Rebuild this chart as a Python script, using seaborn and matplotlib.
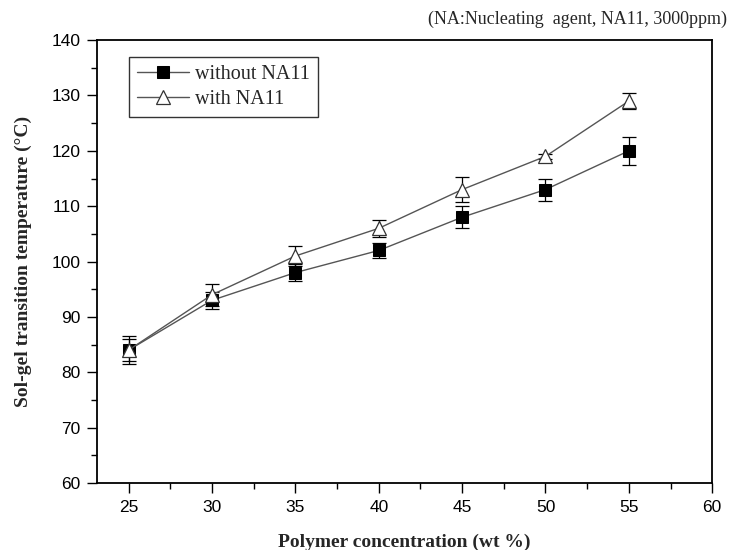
import matplotlib
matplotlib.use("Agg")
import matplotlib.pyplot as plt
import seaborn as sns
import pandas as pd
from matplotlib.ticker import MultipleLocator

conc = [25, 30, 35, 40, 45, 50, 55]
without_na = [84, 93, 98, 102, 108, 113, 120]
without_err = [2.0, 1.5, 1.5, 1.3, 2.0, 2.0, 2.5]
with_na = [84, 94, 101, 106, 113, 119, 129]
with_err = [2.5, 2.0, 1.8, 1.5, 2.3, 0.5, 1.5]

sns.set_theme(style="white")
plt.rcParams['font.family'] = ['Liberation Sans', 'DejaVu Sans']

df = pd.DataFrame({
    "conc": conc * 2,
    "temp": without_na + with_na,
    "group": ["without NA11"] * len(conc) + ["with NA11"] * len(conc),
})

fig = plt.figure(figsize=(7.29, 5.5), dpi=100)
ax = fig.add_axes([0.133, 0.122, 0.844, 0.805])

line_col = "#555555"
ax.errorbar(conc, without_na, yerr=without_err, fmt='none', ecolor='black',
            elinewidth=0.9, capsize=5, capthick=0.9, zorder=2)
ax.errorbar(conc, with_na, yerr=with_err, fmt='none', ecolor='black',
            elinewidth=0.9, capsize=5, capthick=0.9, zorder=2)

sns.lineplot(data=df[df.group == "without NA11"], x="conc", y="temp", ax=ax,
             color=line_col, lw=1.0, marker='s', markersize=8,
             markerfacecolor='black', markeredgecolor='black', label="without NA11", zorder=3)
sns.lineplot(data=df[df.group == "with NA11"], x="conc", y="temp", ax=ax,
             color=line_col, lw=1.0, marker='^', markersize=10,
             markerfacecolor='white', markeredgecolor='#333333', markeredgewidth=0.9,
             label="with NA11", zorder=3)

ax.set_xlim(23.1, 60)
ax.set_ylim(60, 140)
ax.xaxis.set_major_locator(MultipleLocator(5))
ax.xaxis.set_minor_locator(MultipleLocator(2.5))
ax.yaxis.set_major_locator(MultipleLocator(10))
ax.yaxis.set_minor_locator(MultipleLocator(5))
ax.tick_params(axis='both', which='major', direction='out', length=7, width=1,
               labelsize=12.5, color='black', labelcolor='black', bottom=True, left=True, pad=5)
ax.tick_params(axis='both', which='minor', direction='out', length=4, width=1,
               color='black', bottom=True, left=True)
for s in ax.spines.values():
    s.set_color('black')
    s.set_linewidth(1.3)

ax.set_xlabel("Polymer concentration (wt %)", fontsize=14, fontweight='bold',
              family=['Liberation Serif'], labelpad=14)
ax.set_ylabel("Sol-gel transition temperature (°C)", fontsize=14, fontweight='bold',
              family=['Liberation Serif'], labelpad=14)

leg = ax.legend(loc='upper left', bbox_to_anchor=(0.035, 0.985), frameon=True,
                fancybox=False, edgecolor='black', prop={'family': 'Liberation Serif', 'size': 14.5},
                handlelength=2.6, borderpad=0.4, labelspacing=0.3, handletextpad=0.3)
leg.get_frame().set_linewidth(1.0)

fig.text(0.997, 0.965, "(NA:Nucleating  agent, NA11, 3000ppm)", ha='right', va='center',
         fontsize=13, family=['Liberation Serif'])

fig.savefig("out.png", dpi=100, facecolor='white')
